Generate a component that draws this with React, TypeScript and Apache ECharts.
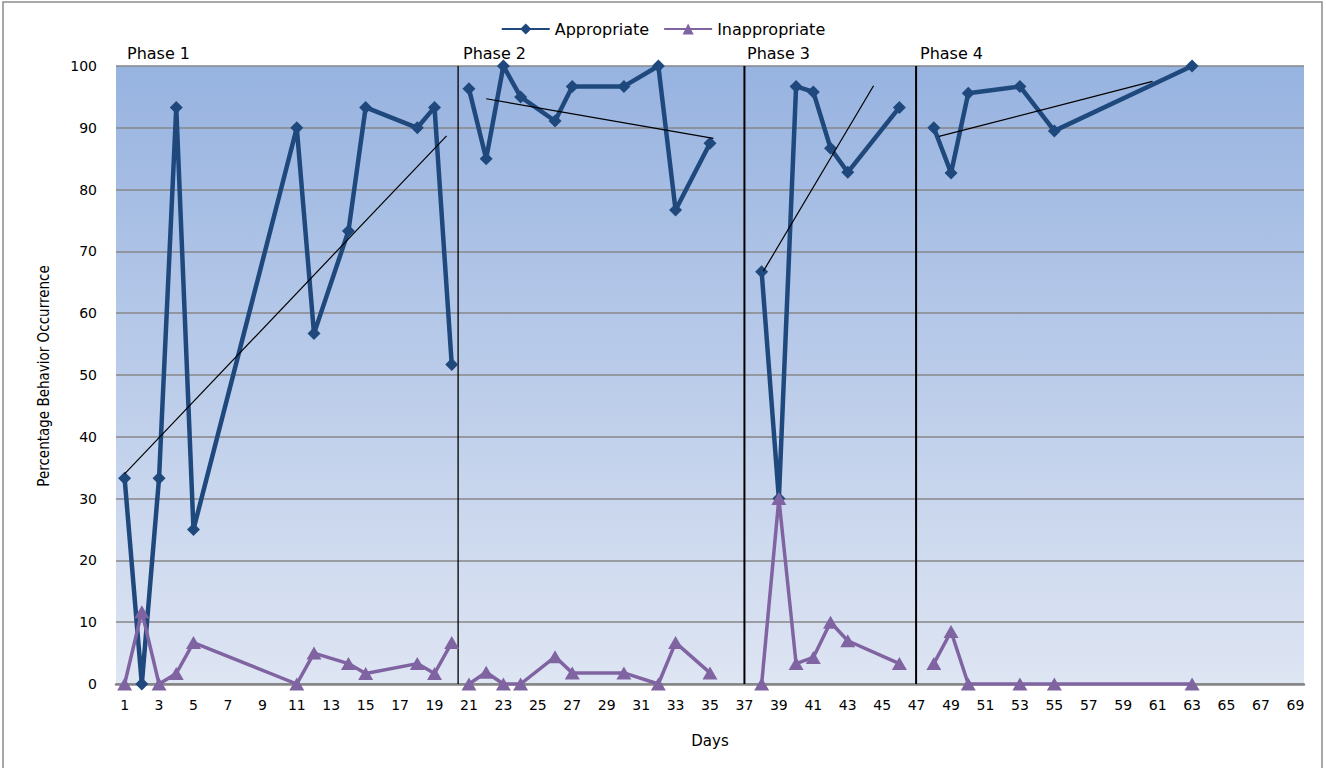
import React, { useEffect, useRef } from "react";
import * as echarts from "echarts";

// Session days 1..69 on the category axis
const dayLabels: string[] = Array.from({ length: 69 }, (_, i) => String(i + 1));

// Observed days per phase
const phase1Days = [1, 2, 3, 4, 5, 11, 12, 14, 15, 18, 19, 20];
const phase2Days = [21, 22, 23, 24, 26, 27, 30, 32, 33, 35];
const phase3Days = [38, 39, 40, 41, 42, 43, 46];
const phase4Days = [48, 49, 50, 53, 55, 63];

// Percentage of appropriate behaviour
const phase1Appropriate = [33.3, 0, 33.3, 93.3, 25, 90, 56.7, 73.3, 93.3, 90, 93.3, 51.7];
const phase2Appropriate = [96.3, 85, 100, 95, 91.1, 96.7, 96.7, 100, 76.7, 87.5];
const phase3Appropriate = [66.7, 30, 96.7, 95.8, 86.7, 82.8, 93.3];
const phase4Appropriate = [90, 82.7, 95.6, 96.7, 89.5, 100];

// Percentage of inappropriate behaviour
const phase1Inappropriate = [0, 11.7, 0, 1.7, 6.7, 0, 5, 3.3, 1.7, 3.3, 1.7, 6.7];
const phase2Inappropriate = [0, 1.9, 0, 0, 4.4, 1.8, 1.8, 0, 6.7, 1.8];
const phase3Inappropriate = [0, 30, 3.3, 4.3, 10, 7, 3.3];
const phase4Inappropriate = [3.3, 8.5, 0, 0, 0, 0];

// Linear trend line end points per phase (day, percentage)
const trendStartDay = [1, 22, 38.1, 48.3];
const trendEndDay = [19.7, 35.2, 44.5, 60.7];
const trendStartValue = [34, 94.7, 66.8, 88.6];
const trendEndValue = [88.7, 88.3, 96.8, 97.5];

// Phase change lines (day position)
const phaseChangeDays = [20.37, 37, 46.97];
const phaseChangeWidths = [1.3, 2, 2];

const phaseNames = ["Phase 1", "Phase 2", "Phase 3", "Phase 4"];
const yTicks = [0, 100, 10];

const phaseDays = [phase1Days, phase2Days, phase3Days, phase4Days];
const appropriateByPhase = [phase1Appropriate, phase2Appropriate, phase3Appropriate, phase4Appropriate];
const inappropriateByPhase = [phase1Inappropriate, phase2Inappropriate, phase3Inappropriate, phase4Inappropriate];

// Join phases into one series, breaking the line between phases
function toSeriesData(values: number[][]) {
  const out: any[] = [];
  phaseDays.forEach((days, p) => {
    if (p > 0) out.push([String(days[0]), "-"]);
    days.forEach((d, i) => out.push([String(d), values[p][i]]));
  });
  return out;
}

const FONT = "DejaVu Sans";

export default function App() {
  const ref = useRef<HTMLDivElement>(null);

  useEffect(() => {
    if (!ref.current) return;
    const chart = echarts.init(ref.current, undefined, { renderer: "svg" });

    const trendSeries = trendStartDay.map((s, i) => ({
      type: "line",
      xAxisIndex: 1,
      data: [
        [s, trendStartValue[i]],
        [trendEndDay[i], trendEndValue[i]],
      ],
      symbol: "none",
      lineStyle: { color: "#000000", width: 1.2 },
      z: 6,
      silent: true,
    }));

    const phaseLineSeries = phaseChangeDays.map((d, i) => ({
      type: "line",
      xAxisIndex: 1,
      data: [
        [d, 0],
        [d, 100],
      ],
      symbol: "none",
      lineStyle: { color: "#000000", width: phaseChangeWidths[i] },
      z: 3,
      silent: true,
    }));

    const phaseLabelX = [127, 463, 747, 920];

    chart.setOption({
      animation: false,
      backgroundColor: "#ffffff",
      textStyle: { fontFamily: FONT },
      legend: {
        top: 16,
        left: "center",
        itemWidth: 48,
        itemHeight: 14,
        itemGap: 14,
        textStyle: { fontFamily: FONT, fontSize: 16, color: "#000" },
        data: ["Appropriate", "Inappropriate"],
      },
      grid: {
        left: 116,
        right: 22,
        top: 66,
        bottom: 84,
        show: true,
        borderWidth: 0,
        backgroundColor: new echarts.graphic.LinearGradient(0, 0, 0, 1, [
          { offset: 0, color: "#97B3E0" },
          { offset: 1, color: "#DEE5F3" },
        ]),
      },
      xAxis: [
        {
          type: "category",
          data: dayLabels,
          boundaryGap: true,
          name: "Days",
          nameLocation: "middle",
          nameGap: 49,
          nameTextStyle: { fontFamily: FONT, fontSize: 15, color: "#000" },
          axisLine: { lineStyle: { color: "#858585", width: 2.5 } },
          axisTick: { show: false },
          axisLabel: {
            interval: 1,
            margin: 14,
            fontFamily: FONT,
            fontSize: 14,
            color: "#000",
          },
          splitLine: { show: false },
        },
        {
          type: "value",
          min: 0.5,
          max: 69.5,
          show: false,
          splitLine: { show: false },
        },
      ],
      yAxis: {
        type: "value",
        min: yTicks[0],
        max: yTicks[1],
        interval: yTicks[2],
        axisLine: { show: false },
        axisTick: { show: false },
        axisLabel: { margin: 19, fontFamily: FONT, fontSize: 14, color: "#000" },
        splitLine: { lineStyle: { color: "#878787", width: 1.5 } },
      },
      graphic: [
        {
          type: "rect",
          shape: { x: 3, y: 2, width: 1319, height: 800 },
          style: { fill: "none", stroke: "#8c8c8c", lineWidth: 1.5 },
          silent: true,
          z: -10,
        },
        {
          type: "text",
          x: 44,
          y: 376,
          rotation: Math.PI / 2,
          style: {
            text: "Percentage Behavior Occurrence",
            fontFamily: "DejaVu Sans Condensed",
            fontSize: 15,
            fill: "#000",
            align: "center",
            verticalAlign: "middle",
          },
        },
        ...phaseNames.map((name, i) => ({
          type: "text",
          x: phaseLabelX[i],
          y: 53,
          style: {
            text: name,
            fontFamily: FONT,
            fontSize: 16,
            fill: "#000",
            align: "left",
            verticalAlign: "middle",
          },
        })),
      ],
      series: [
        {
          name: "Appropriate",
          type: "line",
          data: toSeriesData(appropriateByPhase),
          connectNulls: false,
          showAllSymbol: true,
          symbol: "diamond",
          symbolSize: 13,
          color: "#1F497D",
          itemStyle: { color: "#1F497D" },
          lineStyle: { color: "#1F497D", width: 4.5 },
          z: 4,
        },
        {
          name: "Inappropriate",
          type: "line",
          data: toSeriesData(inappropriateByPhase),
          connectNulls: false,
          showAllSymbol: true,
          symbol: "triangle",
          symbolSize: [15, 13],
          color: "#8064A2",
          itemStyle: { color: "#8064A2" },
          lineStyle: { color: "#8064A2", width: 3.5 },
          z: 5,
        },
        ...trendSeries,
        ...phaseLineSeries,
      ],
    });

    return () => chart.dispose();
  }, []);

  return (
    <div
      ref={ref}
      style={{ position: "absolute", left: 0, top: 0, width: 1326, height: 768, background: "#fff" }}
    />
  );
}
